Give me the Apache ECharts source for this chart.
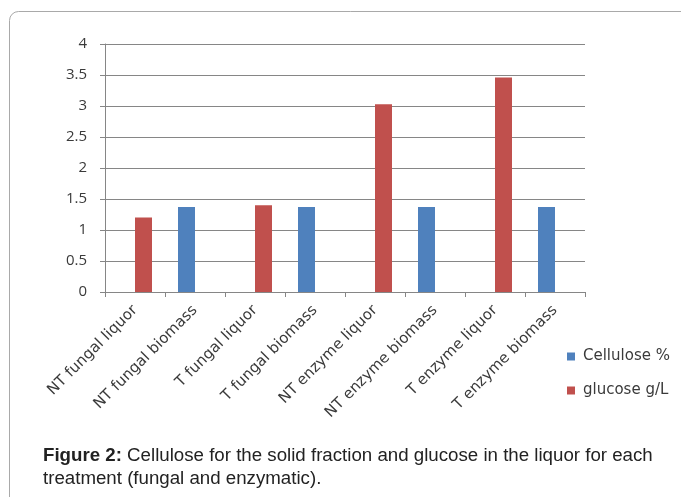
<!DOCTYPE html>
<html>
<head>
<meta charset="utf-8">
<script src="https://cdn.jsdelivr.net/npm/echarts@6/dist/echarts.min.js"></script>
<style>
  html, body { margin: 0; padding: 0; background: #ffffff; }
  #chart { width: 681px; height: 497px; }
</style>
</head>
<body>
<div id="chart"></div>
<script>
// Treatments along the x axis
const categories = [
  'NT fungal liquor', 'NT fungal biomass', 'T fungal liquor', 'T fungal biomass',
  'NT enzyme liquor', 'NT enzyme biomass', 'T enzyme liquor', 'T enzyme biomass'
];
// Cellulose is measured on the solid fraction (biomass) only
const celluloseValues = [null, 1.37, null, 1.37, null, 1.37, null, 1.37];
// Glucose is measured in the liquor only
const glucoseValues = [1.20, null, 1.40, null, 3.03, null, 3.46, null];
const seriesNames = ['Cellulose %', 'glucose g/L'];
const yTicks = { min: 0, max: 4, interval: 0.5 };

const axisGray = '#868686';
const labelColor = '#3a3a3a';
const uiFont = '"Open Sans", "Liberation Sans", sans-serif';
const wideFont = '"DejaVu Sans", "Open Sans", sans-serif';
const captionFont = '"Liberation Sans", Arial, sans-serif';

const chart = echarts.init(document.getElementById('chart'), null, { renderer: 'canvas' });

chart.setOption({
  backgroundColor: '#ffffff',
  animation: false,
  title: {
    left: 38,
    top: 439,
    text: '{b|Figure 2:} Cellulose for the solid fraction and glucose in the liquor for each\ntreatment (fungal and enzymatic).',
    textStyle: {
      fontFamily: captionFont,
      fontSize: 18.7,
      fontWeight: 'normal',
      color: '#222222',
      lineHeight: 23,
      rich: {
        b: {
          fontFamily: captionFont,
          fontSize: 18.7,
          fontWeight: 'bold',
          color: '#222222',
          lineHeight: 23
        }
      }
    }
  },
  graphic: [{
    type: 'rect',
    silent: true,
    shape: { x: 9.5, y: 11.5, width: 720, height: 540, r: 9 },
    style: { fill: 'none', stroke: '#a9a9a9', lineWidth: 1 }
  }],
  legend: {
    orient: 'vertical',
    left: 562,
    top: 344,
    itemWidth: 8,
    itemHeight: 8,
    itemGap: 19,
    icon: 'rect',
    textStyle: { fontFamily: wideFont, fontSize: 15, color: labelColor, padding: [0, 0, 0, 3] },
    data: seriesNames
  },
  grid: { left: 105, right: 96, top: 44, bottom: 205, containLabel: false },
  xAxis: {
    type: 'category',
    data: categories,
    boundaryGap: true,
    axisLine: { show: true, lineStyle: { color: axisGray, width: 1 } },
    axisTick: { show: true, length: 5, interval: 0, alignWithLabel: false, lineStyle: { color: axisGray } },
    axisLabel: {
      interval: 0,
      rotate: 45,
      margin: 16,
      fontFamily: wideFont,
      fontSize: 15,
      color: labelColor
    },
    splitLine: { show: false }
  },
  yAxis: {
    type: 'value',
    min: yTicks.min,
    max: yTicks.max,
    interval: yTicks.interval,
    axisLine: { show: true, lineStyle: { color: axisGray, width: 1 } },
    axisTick: { show: true, length: 5, lineStyle: { color: axisGray } },
    axisLabel: {
      margin: 18,
      fontFamily: uiFont,
      fontSize: 15,
      color: labelColor
    },
    splitLine: { show: true, lineStyle: { color: axisGray, width: 1 } }
  },
  series: [
    {
      name: seriesNames[0],
      type: 'bar',
      data: celluloseValues,
      barWidth: 17,
      barGap: '0%',
      itemStyle: { color: '#4F81BD' }
    },
    {
      name: seriesNames[1],
      type: 'bar',
      data: glucoseValues,
      barWidth: 17,
      barGap: '0%',
      itemStyle: { color: '#C0504D' }
    }
  ]
});
</script>
</body>
</html>
